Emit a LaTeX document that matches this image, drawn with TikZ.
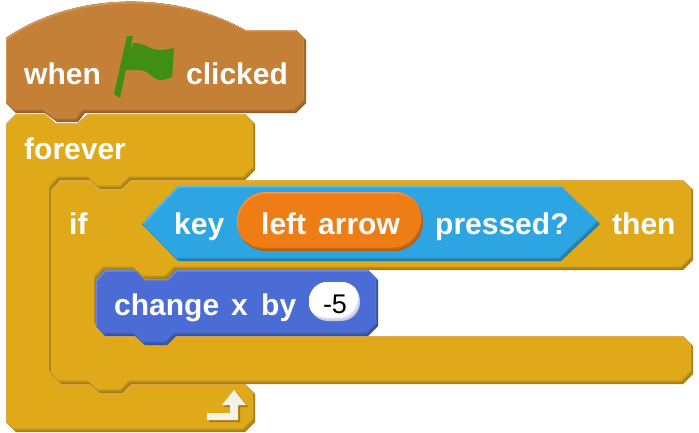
\documentclass[tikz,border=0pt]{standalone}
\usepackage{fontspec}
\setmainfont{Liberation Sans}
\usepackage{tikz}
\definecolor{hatbase}{HTML}{C38036}
\definecolor{hatlight}{HTML}{D19C66}
\definecolor{hatdark}{HTML}{925F28}
\definecolor{ctrlbase}{HTML}{E0A91A}
\definecolor{ctrllight}{HTML}{DDAA4E}
\definecolor{ctrldark}{HTML}{A67D12}
\definecolor{movebase}{HTML}{4A6CD4}
\definecolor{movelight}{HTML}{7790DE}
\definecolor{movedark}{HTML}{3450A0}
\definecolor{sensebase}{HTML}{2CA5E2}
\definecolor{senselight}{HTML}{5FB8E8}
\definecolor{sensedark}{HTML}{1F7BA9}
\definecolor{keybase}{HTML}{EE7D16}
\definecolor{keylight}{HTML}{F09B50}
\definecolor{keydark}{HTML}{B25D10}
\definecolor{flaggreen}{HTML}{3F8F14}
\definecolor{iconwhite}{HTML}{F5F2E8}
\newcommand{\bevelblock}[4]{
\begin{scope}
\fill[#4] #1;
\clip #1;
\fill[#4!65!#2,shift={(-1,-1.5)}] #1;
\clip[shift={(-1,-1.5)}] #1;
\fill[#4!30!#2,shift={(-2,-3)}] #1;
\clip[shift={(-2,-3)}] #1;
\fill[#2,shift={(-2.5,-4)}] #1;
\clip[shift={(-2.5,-4)}] #1;
\fill[#3,shift={(0,0)}] #1;
\clip #1;
\fill[#3!50!#2,shift={(0.5,1)}] #1;
\clip[shift={(0.5,1)}] #1;
\fill[#2,shift={(1,2)}] #1;
\end{scope}}
\tikzset{
lbl/.style={anchor=base west,inner sep=0pt,text=white,font=\fontsize{30}{30}\selectfont\bfseries}
}
\begin{document}
\begin{tikzpicture}[x=1pt,y=-1pt]
\useasboundingbox (0,0) rectangle (699,432);
% forever
\bevelblock{(16,114) -- (45,114) -- (55,123) -- (78,123) -- (88,114) -- (245,114) -- (255,124) -- (255,170) -- (245,180) -- (131,180) -- (122,189) -- (100,189) -- (90,180) -- (60,180) -- (51,190) -- (51,374) -- (60,384) -- (90,384) -- (100,393) -- (122,393) -- (131,384) -- (245,384) -- (255,394) -- (255,422) -- (245,432) -- (16,432) -- (6,422) -- (6,124) -- cycle}{ctrlbase}{ctrllight}{ctrldark}
% hat
\bevelblock{(6,38) .. controls (75,-9) and (175,-9) .. (245,30) -- (296,30) -- (306,40) -- (306,103) -- (296,113) -- (85,113) -- (78,122) -- (57,122) -- (45,113) -- (16,113) -- (6,103) -- cycle}{hatbase}{hatlight}{hatdark}
% if
\bevelblock{(61,180) -- (90,180) -- (99,189) -- (122,189) -- (131,180) -- (683,180) -- (693,190) -- (693,260) -- (683,270) -- (176,270) -- (167,279) -- (145,279) -- (135,270) -- (105,270) -- (96,280) -- (96,326) -- (105,336) -- (683,336) -- (693,346) -- (693,374) -- (683,384) -- (131,384) -- (122,393) -- (100,393) -- (90,384) -- (61,384) -- (51,374) -- (51,190) -- cycle}{ctrlbase}{ctrllight}{ctrldark}
% condition
\bevelblock{(142,224) -- (178,186) -- (561,186) -- (600,224) -- (561,261) -- (178,261) -- cycle}{sensebase}{senselight}{sensedark}
\bevelblock{[rounded corners=29] (237,192) rectangle (423,251)}{keybase}{keylight}{keydark}
% change x
\bevelblock{(105,270) -- (135,270) -- (144,279) -- (167,279) -- (176,270) -- (368,270) -- (378,280) -- (378,326) -- (368,336) -- (176,336) -- (167,345) -- (145,345) -- (135,336) -- (105,336) -- (96,326) -- (96,280) -- cycle}{movebase}{movelight}{movedark}
\bevelblock{[rounded corners=19] (309,282) rectangle (360,321)}{white}{white}{movedark!30!white}
% flag
\fill[flaggreen] (127,36) -- (133,36) -- (120,98) -- (114,94) -- cycle;
\fill[flaggreen] (133,43) .. controls (145,43) and (150,50) .. (160,50) .. controls (165,50) and (170,49) .. (174,48) -- (172,77) .. controls (168,79) and (164,80) .. (160,80) .. controls (153,80) and (150,71) .. (140,70) -- (123,70) -- cycle;
% loop icon
\fill[ctrldark,shift={(2,2)}] (234,390) -- (246,405) -- (238,405) -- (238,420) -- (207,420) -- (207,413) -- (230,413) -- (230,405) -- (222,405) -- cycle;
\fill[iconwhite] (234,390) -- (246,405) -- (238,405) -- (238,420) -- (207,420) -- (207,413) -- (230,413) -- (230,405) -- (222,405) -- cycle;
% labels
\node[lbl] (when) at (24,84) {when};
\node[lbl] (clicked) at (186,84) {clicked};
\node[lbl] (forever) at (24,159) {forever};
\node[lbl] (ifword) at (69,234) {if};
\node[lbl] (keyword) at (174,234) {key};
\node[lbl] (leftarrow) at (261,234) {\spaceskip=12pt left arrow};
\node[lbl] (pressed) at (435,234) {pressed?};
\node[lbl] (thenword) at (612,234) {then};
\node[lbl] (change) at (114,315) {change};
\node[lbl] (xword) at (231,315) {x};
\node[lbl] (byword) at (261,315) {by};
\node[anchor=base,inner sep=0pt,text=black,font=\fontsize{27}{27}\selectfont] (amount) at (335,313) {-5};
\end{tikzpicture}
\end{document}
